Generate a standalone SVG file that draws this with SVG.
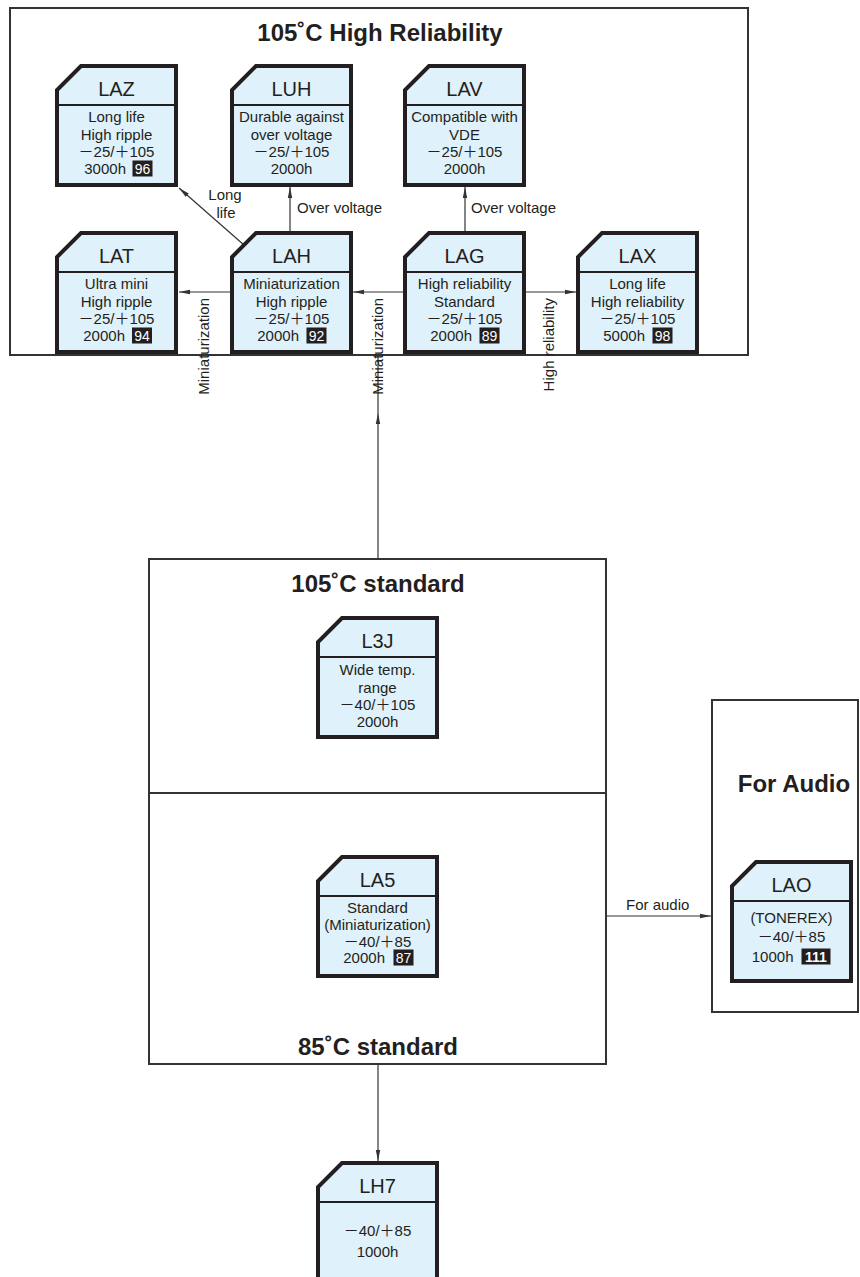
<svg xmlns="http://www.w3.org/2000/svg" xmlns:xlink="http://www.w3.org/1999/xlink" width="860" height="1277" viewBox="0 0 860 1277">
<style>
text{font-family:"Liberation Sans",Arial,"Noto Sans CJK JP",sans-serif;fill:#231f20}
.card{fill:#dff1fb;stroke:#231f20;stroke-width:4;stroke-linejoin:miter}
.dv{stroke:#231f20;stroke-width:2}
.hd{font-size:20px;text-anchor:middle}
.bd{font-size:15px;text-anchor:middle}
.be{font-size:15px;text-anchor:end}
.badge{fill:#231f20}
.bn{font-size:14px;fill:#ffffff;text-anchor:middle}
.frame{fill:none;stroke:#333;stroke-width:2}
.title{font-size:24px;font-weight:bold;text-anchor:middle}
.lbl{font-size:15px}
.conn{stroke:#333;stroke-width:1.2;fill:none}
</style>
<defs>
<path id="card" d="M24,0 H119 V119 H0 V24 Z"/>
<marker id="arr" markerUnits="userSpaceOnUse" markerWidth="11" markerHeight="6" refX="11" refY="3" orient="auto">
<path d="M0,0.8 L11,3 L0,5.2 Z" fill="#333"/>
</marker>
</defs>

<g id="frames">
<rect class="frame" x="10" y="8" width="738" height="347"/>
<text class="title" x="380" y="41">105˚C High Reliability</text>
<rect class="frame" x="149" y="559" width="457" height="505"/>
<line class="frame" x1="149" y1="793" x2="606" y2="793"/>
<text class="title" x="378" y="592">105˚C standard</text>
<text class="title" x="378" y="1055">85˚C standard</text>
<rect class="frame" x="712" y="700" width="146" height="312"/>
<text class="title" x="794" y="792">For Audio</text>
</g>

<g id="connectors">
<path class="conn" d="M230,292 H179" marker-end="url(#arr)"/>
<path class="conn" d="M403,292 H353" marker-end="url(#arr)"/>
<path class="conn" d="M526,292 H576" marker-end="url(#arr)"/>
<path class="conn" d="M290,231 V187" marker-end="url(#arr)"/>
<path class="conn" d="M465,231 V187" marker-end="url(#arr)"/>
<path class="conn" d="M244,245 L179,188" marker-end="url(#arr)"/>
<path class="conn" d="M378,559 V413" marker-end="url(#arr)"/>
<path class="conn" d="M378,413 V355"/>
<path class="conn" d="M606,916 H711" marker-end="url(#arr)"/>
<path class="conn" d="M378,1064 V1161" marker-end="url(#arr)"/>
<text class="lbl" x="225" y="200" text-anchor="middle">Long</text>
<text class="lbl" x="226" y="218" text-anchor="middle">life</text>
<text class="lbl" x="297" y="213">Over voltage</text>
<text class="lbl" x="471" y="213">Over voltage</text>
<text class="lbl" x="609" y="910" text-anchor="start" dx="17">For audio</text>
<text class="lbl" transform="translate(209,298) rotate(-90)" text-anchor="end">Miniaturization</text>
<text class="lbl" transform="translate(383,298) rotate(-90)" text-anchor="end">Miniaturization</text>
<text class="lbl" transform="translate(554,298) rotate(-90)" text-anchor="end">High reliability</text>
</g>

<g id="LAZ" transform="translate(57,66)">
<use xlink:href="#card" class="card"/><line class="dv" x1="0" y1="39" x2="119" y2="39"/>
<text class="hd" x="59.5" y="30">LAZ</text>
<text class="bd" x="59.5" y="56">Long life</text>
<text class="bd" x="59.5" y="74">High ripple</text>
<text class="bd" x="59.5" y="91">－25/＋105</text>
<text class="be" x="69" y="108">3000h</text>
<rect class="badge" x="75.5" y="94.5" width="20" height="16"/><text class="bn" x="85.5" y="107.5">96</text>
</g>

<g id="LUH" transform="translate(232,66)">
<use xlink:href="#card" class="card"/><line class="dv" x1="0" y1="39" x2="119" y2="39"/>
<text class="hd" x="59.5" y="30">LUH</text>
<text class="bd" x="59.5" y="56">Durable against</text>
<text class="bd" x="59.5" y="74">over voltage</text>
<text class="bd" x="59.5" y="91">－25/＋105</text>
<text class="bd" x="59.5" y="108">2000h</text>
</g>

<g id="LAV" transform="translate(405,66)">
<use xlink:href="#card" class="card"/><line class="dv" x1="0" y1="39" x2="119" y2="39"/>
<text class="hd" x="59.5" y="30">LAV</text>
<text class="bd" x="59.5" y="56">Compatible with</text>
<text class="bd" x="59.5" y="74">VDE</text>
<text class="bd" x="59.5" y="91">－25/＋105</text>
<text class="bd" x="59.5" y="108">2000h</text>
</g>

<g id="LAT" transform="translate(57,233)">
<use xlink:href="#card" class="card"/><line class="dv" x1="0" y1="39" x2="119" y2="39"/>
<text class="hd" x="59.5" y="30">LAT</text>
<text class="bd" x="59.5" y="56">Ultra mini</text>
<text class="bd" x="59.5" y="74">High ripple</text>
<text class="bd" x="59.5" y="91">－25/＋105</text>
<text class="be" x="68" y="108">2000h</text>
<rect class="badge" x="75" y="94.5" width="20" height="16"/><text class="bn" x="85" y="107.5">94</text>
</g>

<g id="LAH" transform="translate(232,233)">
<use xlink:href="#card" class="card"/><line class="dv" x1="0" y1="39" x2="119" y2="39"/>
<text class="hd" x="59.5" y="30">LAH</text>
<text class="bd" x="59.5" y="56">Miniaturization</text>
<text class="bd" x="59.5" y="74">High ripple</text>
<text class="bd" x="59.5" y="91">－25/＋105</text>
<text class="be" x="67" y="108">2000h</text>
<rect class="badge" x="74.5" y="94.5" width="20" height="16"/><text class="bn" x="84.5" y="107.5">92</text>
</g>

<g id="LAG" transform="translate(405,233)">
<use xlink:href="#card" class="card"/><line class="dv" x1="0" y1="39" x2="119" y2="39"/>
<text class="hd" x="59.5" y="30">LAG</text>
<text class="bd" x="59.5" y="56">High reliability</text>
<text class="bd" x="59.5" y="74">Standard</text>
<text class="bd" x="59.5" y="91">－25/＋105</text>
<text class="be" x="67" y="108">2000h</text>
<rect class="badge" x="74.5" y="94.5" width="20" height="16"/><text class="bn" x="84.5" y="107.5">89</text>
</g>

<g id="LAX" transform="translate(578,233)">
<use xlink:href="#card" class="card"/><line class="dv" x1="0" y1="39" x2="119" y2="39"/>
<text class="hd" x="59.5" y="30">LAX</text>
<text class="bd" x="59.5" y="56">Long life</text>
<text class="bd" x="59.5" y="74">High reliability</text>
<text class="bd" x="59.5" y="91">－25/＋105</text>
<text class="be" x="67" y="108">5000h</text>
<rect class="badge" x="74.5" y="94.5" width="20" height="16"/><text class="bn" x="84.5" y="107.5">98</text>
</g>

<g id="L3J" transform="translate(318,618)">
<use xlink:href="#card" class="card"/><line class="dv" x1="0" y1="39" x2="119" y2="39"/>
<text class="hd" x="59.5" y="30">L3J</text>
<text class="bd" x="59.5" y="57">Wide temp.</text>
<text class="bd" x="59.5" y="75">range</text>
<text class="bd" x="59.5" y="92">－40/＋105</text>
<text class="bd" x="59.5" y="109">2000h</text>
</g>

<g id="LA5" transform="translate(318,857)">
<use xlink:href="#card" class="card"/><line class="dv" x1="0" y1="39" x2="119" y2="39"/>
<text class="hd" x="59.5" y="30">LA5</text>
<text class="bd" x="59.5" y="56">Standard</text>
<text class="bd" x="59.5" y="73">(Miniaturization)</text>
<text class="bd" x="59.5" y="90">－40/＋85</text>
<text class="be" x="67" y="106">2000h</text>
<rect class="badge" x="75.5" y="92.5" width="20" height="16"/><text class="bn" x="85.5" y="105.5">87</text>
</g>

<g id="LAO" transform="translate(732,862)">
<use xlink:href="#card" class="card"/><line class="dv" x1="0" y1="39" x2="119" y2="39"/>
<text class="hd" x="59.5" y="30">LAO</text>
<text class="bd" x="59.5" y="61">(TONEREX)</text>
<text class="bd" x="59.5" y="80">－40/＋85</text>
<text class="be" x="61.5" y="100">1000h</text>
<rect class="badge" x="69.5" y="86.5" width="29" height="16"/><text class="bn" x="84" y="99.5" font-weight="bold">111</text>
</g>

<g id="LH7" transform="translate(318,1163)">
<use xlink:href="#card" class="card"/><line class="dv" x1="0" y1="39" x2="119" y2="39"/>
<text class="hd" x="59.5" y="30">LH7</text>
<text class="bd" x="59.5" y="73">－40/＋85</text>
<text class="bd" x="59.5" y="94">1000h</text>
</g>
</svg>
